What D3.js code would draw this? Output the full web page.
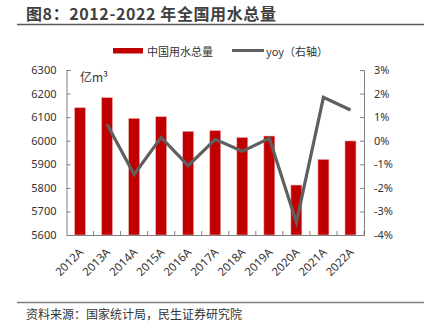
<!DOCTYPE html>
<html><head><meta charset="utf-8">
<script src="https://cdn.jsdelivr.net/npm/d3@7/dist/d3.min.js"></script>
<style>body{margin:0;background:#fff;}svg{display:block;font-family:"Noto Sans CJK SC","Noto Sans",sans-serif;}</style>
</head><body>
<script>
const categories = ["2012A","2013A","2014A","2015A","2016A","2017A","2018A","2019A","2020A","2021A","2022A"];
const waterUse = [6140, 6183, 6095, 6102, 6040, 6043, 6014, 6020, 5812, 5921, 5999];
const yoy = [null, 0.70, -1.43, 0.14, -1.06, 0.06, -0.45, 0.10, -3.46, 1.84, 1.30];
const leftTicks = [5600,5700,5800,5900,6000,6100,6200,6300];
const rightTicks = [-4,-3,-2,-1,0,1,2,3];

const W=430,H=332;
const svg=d3.select("body").append("svg").attr("width",W).attr("height",H);
const x0=66.5,x1=364,yTop=70,yBot=235;

svg.append("text").attr("x",26).attr("y",20).attr("font-size",16).attr("letter-spacing",0.6).attr("font-weight","bold").attr("fill","#404040").text("图8：2012-2022 年全国用水总量");
svg.append("line").attr("x1",17).attr("x2",424).attr("y1",24.5).attr("y2",24.5).attr("stroke","#595959").attr("stroke-width",1.5);

const xb=d3.scaleBand().domain(categories).range([x0,x1]);
const yL=d3.scaleLinear().domain([5600,6300]).range([yBot,yTop]);
const yR=d3.scaleLinear().domain([-4,3]).range([yBot,yTop]);

// bars
svg.append("g").selectAll("rect").data(categories).join("rect")
 .attr("x",d=>xb(d)+xb.bandwidth()/2-5.5).attr("width",11)
 .attr("y",(d,i)=>yL(waterUse[i])).attr("height",(d,i)=>yBot-yL(waterUse[i]))
 .attr("fill","#C00000").attr("stroke","#F2B8B8").attr("stroke-width",0.6);

// axes
const axisColor="#808080";
const gl=svg.append("g").attr("transform",`translate(${x0},0)`).call(d3.axisLeft(yL).tickValues(leftTicks).tickSize(-4).tickPadding(10).tickFormat(d3.format("d")));
const gr=svg.append("g").attr("transform",`translate(${x1},0)`).call(d3.axisRight(yR).tickValues(rightTicks).tickSize(-4).tickPadding(10).tickFormat(d=>d+"%"));
const gb=svg.append("g").attr("transform",`translate(0,${yBot})`).call(d3.axisBottom(xb).tickSize(0).tickPadding(6));
[gl,gr,gb].forEach(g=>{g.select(".domain").attr("stroke",axisColor);g.selectAll(".tick line").attr("stroke",axisColor);g.selectAll("text").attr("fill","#333").attr("font-size",11).attr("font-family","'Noto Sans','Noto Sans CJK SC',sans-serif");});
// bottom separators ticks pointing up
svg.append("g").selectAll("line").data(categories.slice(1).concat(["end"])).join("line")
 .attr("x1",(d,i)=>i<categories.length-1?xb(d):x1).attr("x2",(d,i)=>i<categories.length-1?xb(d):x1)
 .attr("y1",yBot).attr("y2",yBot-4).attr("stroke",axisColor);
gb.selectAll("text").attr("text-anchor","end").attr("x",0).attr("y",0).attr("dy",0).attr("font-size",11.5)
 .attr("transform","translate(4,18) rotate(-45)");

// line
const pts=categories.map((c,i)=>({c,v:yoy[i]})).filter(p=>p.v!==null);
svg.append("path").datum(pts).attr("fill","none").attr("stroke","#5F5F5F").attr("stroke-width",3.2)
 .attr("d",d3.line().x(p=>xb(p.c)+xb.bandwidth()/2).y(p=>yR(p.v)));

// unit
svg.append("text").attr("x",80).attr("y",82).attr("font-size",12).attr("fill","#333").text("亿m³");

// legend
svg.append("rect").attr("x",113).attr("y",48).attr("width",30).attr("height",5.5).attr("fill","#C00000");
svg.append("text").attr("x",147).attr("y",55.5).attr("font-size",11).attr("fill","#333").text("中国用水总量");
svg.append("line").attr("x1",232).attr("x2",264).attr("y1",50.5).attr("y2",50.5).attr("stroke","#5F5F5F").attr("stroke-width",3);
svg.append("text").attr("x",266).attr("y",55.5).attr("font-size",11).attr("fill","#333").text("yoy（右轴）");

// footer
svg.append("line").attr("x1",17).attr("x2",424).attr("y1",302.5).attr("y2",302.5).attr("stroke","#808080").attr("stroke-width",1.5);
svg.append("text").attr("x",26).attr("y",319).attr("font-size",12).attr("fill","#333").text("资料来源：国家统计局，民生证券研究院");
</script>
</body></html>
